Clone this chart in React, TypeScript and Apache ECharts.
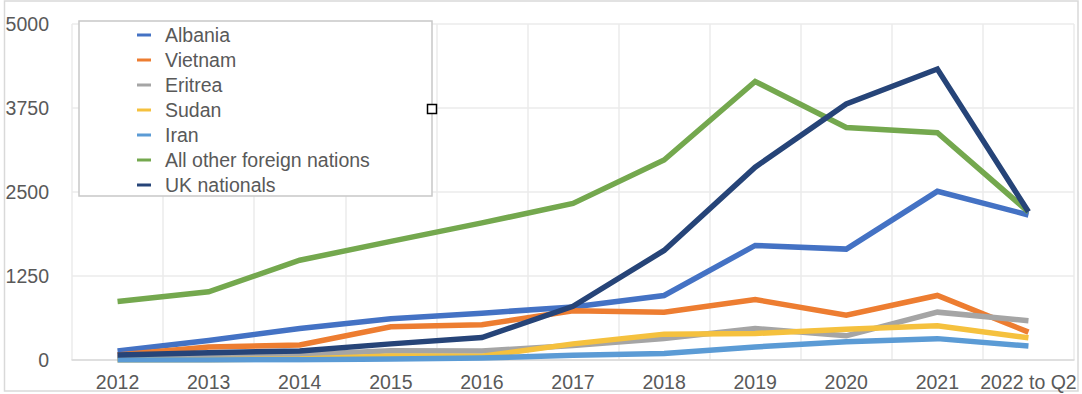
import React, { useEffect, useRef } from "react";
import * as echarts from "echarts";

const categories = ["2012", "2013", "2014", "2015", "2016", "2017", "2018", "2019", "2020", "2021", "2022 to Q2"];
const yTicks = [0, 1250, 2500, 3750, 5000];

const albania = [134, 290, 468, 615, 697, 790, 960, 1705, 1650, 2510, 2158];
const vietnam = [74, 195, 223, 494, 525, 732, 712, 900, 665, 960, 415];
const eritrea = [28, 40, 78, 137, 135, 215, 320, 468, 360, 712, 585];
const sudan = [0, 5, 15, 60, 55, 240, 385, 395, 458, 510, 330];
const iran = [0, 0, 5, 15, 28, 70, 95, 195, 270, 318, 208];
const allOther = [870, 1015, 1485, 1765, 2040, 2330, 2976, 4145, 3460, 3382, 2205];
const ukNationals = [74, 109, 134, 240, 335, 800, 1630, 2870, 3810, 4330, 2205];

const seriesNames = ["Albania", "Vietnam", "Eritrea", "Sudan", "Iran", "All other foreign nations", "UK nationals"];
const seriesData = [albania, vietnam, eritrea, sudan, iran, allOther, ukNationals];
const colors = ["#4472C4", "#ED7D31", "#A5A5A5", "#F5C13E", "#5B9BD5", "#74A84E", "#264478"];

const FONT = "'Liberation Sans', Arial, Helvetica, sans-serif";
const TEXT = "#595959";

export default function App() {
  const ref = useRef<HTMLDivElement>(null);
  useEffect(() => {
    if (!ref.current) return;
    const chart = echarts.init(ref.current, null, { renderer: "svg" });
    chart.setOption({
      animation: false,
      color: colors,
      textStyle: { fontFamily: FONT },
      grid: { left: 72, right: 8, top: 24, bottom: 34, containLabel: false },
      graphic: [
        {
          type: "rect",
          z: 0,
          silent: true,
          shape: { x: 4.5, y: 1, width: 1073.5, height: 390 },
          style: { fill: "none", stroke: "#d9d9d9", lineWidth: 1.5 },
        },
        {
          type: "rect",
          z: 3,
          silent: true,
          shape: { x: 79, y: 21, width: 353, height: 175 },
          style: { fill: "#ffffff", stroke: "#c8c8c8", lineWidth: 1.5 },
        },
        {
          type: "rect",
          z: 5,
          silent: true,
          shape: { x: 427.5, y: 104.5, width: 9, height: 9 },
          style: { fill: "#ffffff", stroke: "#000000", lineWidth: 1.5 },
        },
      ],
      legend: {
        z: 4,
        orient: "vertical",
        left: 137,
        top: 22.5,
        padding: 0,
        itemGap: 0,
        icon: "rect",
        itemWidth: 14,
        itemHeight: 3,
        data: seriesNames,
        textStyle: {
          fontFamily: FONT,
          fontSize: 19.5,
          color: TEXT,
          lineHeight: 25,
          padding: [0, 0, 0, 9],
        },
      },
      xAxis: {
        type: "category",
        data: categories,
        boundaryGap: true,
        axisTick: { show: false },
        axisLine: { show: true, lineStyle: { color: "#d9d9d9", width: 1.5 } },
        axisLabel: { color: TEXT, fontSize: 19.5, fontFamily: FONT, margin: 12, interval: 0 },
        splitLine: { show: true, lineStyle: { color: "#ebebeb", width: 1.5 } },
      },
      yAxis: {
        type: "value",
        min: yTicks[0],
        max: yTicks[yTicks.length - 1],
        interval: yTicks[1] - yTicks[0],
        axisLine: { show: false },
        axisTick: { show: false },
        axisLabel: {
          color: TEXT,
          fontSize: 19.5,
          fontFamily: FONT,
          margin: 23,
          formatter: (v: number) => String(v),
        },
        splitLine: { show: true, lineStyle: { color: "#ebebeb", width: 1.5 } },
      },
      series: seriesNames.map((name, i) => ({
        name,
        type: "line",
        data: seriesData[i],
        symbol: "none",
        showSymbol: false,
        lineStyle: { width: 5.5, color: colors[i], join: "miter" },
        itemStyle: { color: colors[i] },
        z: 2,
      })),
    });
    return () => chart.dispose();
  }, []);
  return (
    <div
      ref={ref}
      style={{ position: "absolute", left: 0, top: 0, width: 1082, height: 394, background: "#fff" }}
    />
  );
}
